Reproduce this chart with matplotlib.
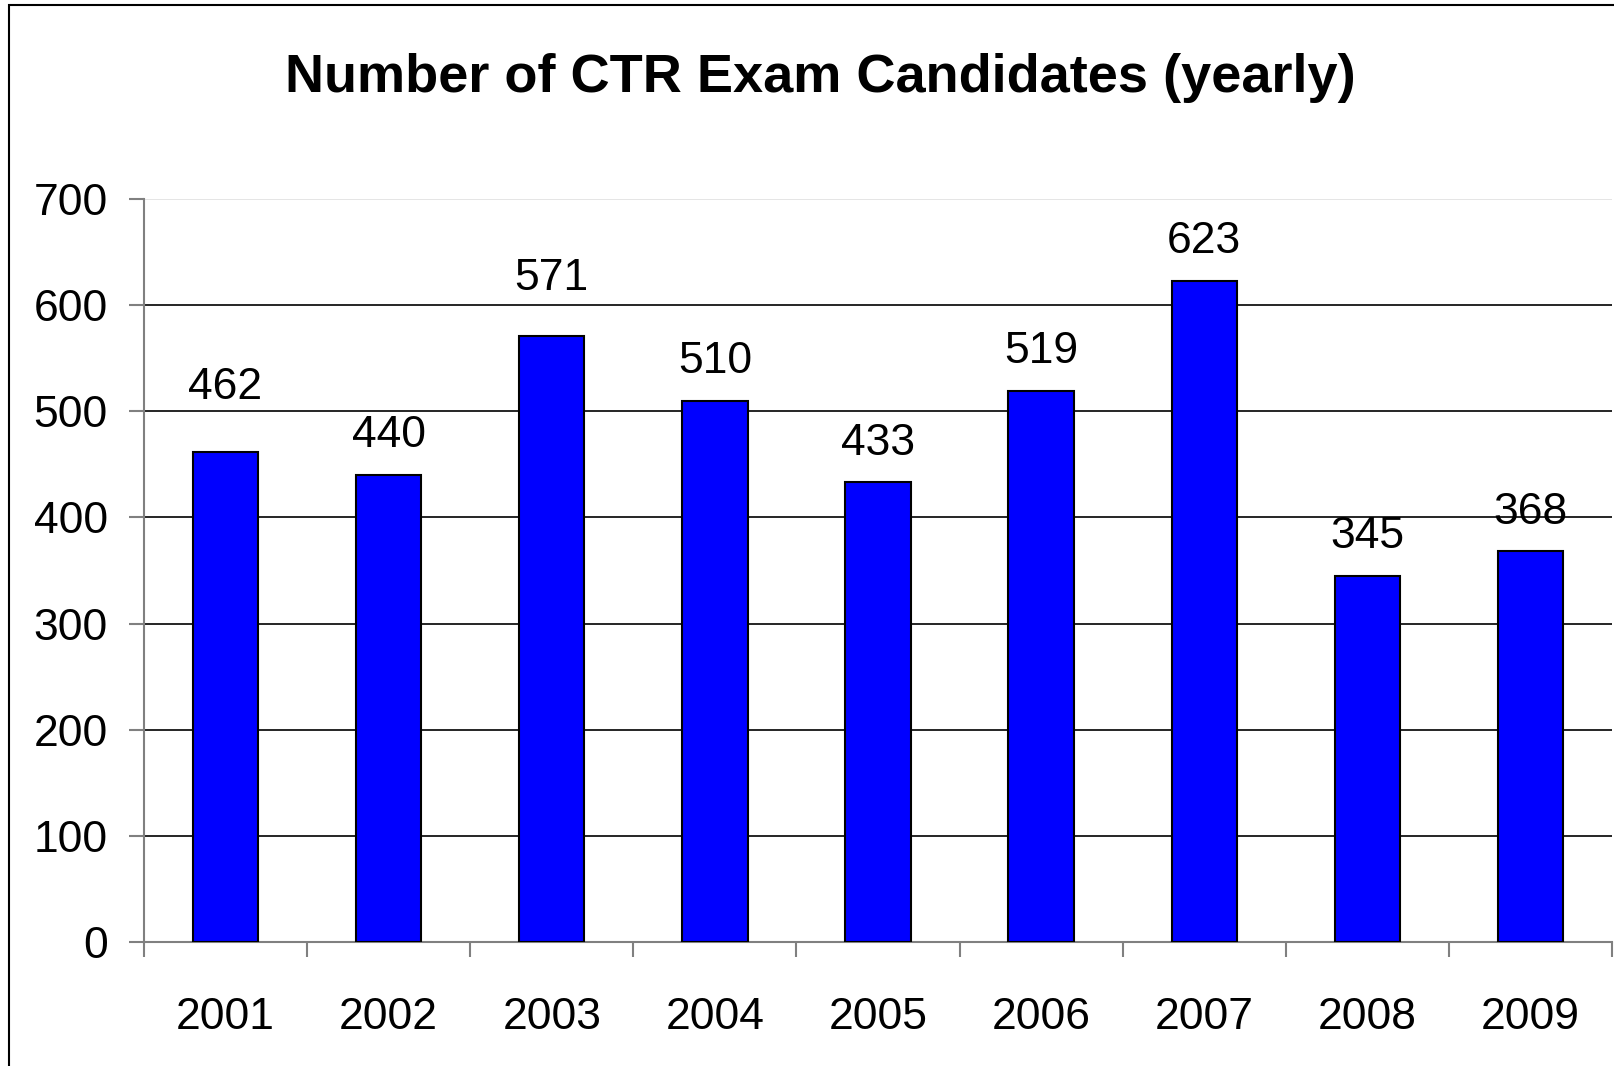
import numpy as np
import matplotlib
matplotlib.use("Agg")
import matplotlib.pyplot as plt
from matplotlib.patches import Rectangle

years = ["2001", "2002", "2003", "2004", "2005", "2006", "2007", "2008", "2009"]
candidates = [462, 440, 571, 510, 433, 519, 623, 345, 368]
yticks = [0, 100, 200, 300, 400, 500, 600, 700]

plt.rcParams['font.family'] = ['Liberation Sans', 'DejaVu Sans']

fig = plt.figure(figsize=(16.15, 10.66), dpi=100)
W, H = 1615, 1066

# outer chart frame (cut off on the right and bottom)
fig.patches.append(Rectangle((9 / W, -0.01), 1.0, 1 - 5 / H + 0.01,
                             transform=fig.transFigure, fill=False,
                             edgecolor='black', linewidth=1.5))

ax = fig.add_axes([144 / W, 1 - 942 / H, (1612 - 144) / W, 743 / H])
x = np.arange(len(years))
bars = ax.bar(x, candidates, width=0.4, color='#0000ff',
              edgecolor='black', linewidth=1.5, zorder=3)

ax.set_xlim(-0.5, len(years) - 0.5)
ax.set_ylim(0, 700)

# horizontal gridlines
for v in yticks[1:-1]:
    ax.axhline(v, color='black', linewidth=1.2, zorder=1)
ax.axhline(700, color='#e0e0e0', linewidth=1.2, zorder=1)

for s in ['top', 'right']:
    ax.spines[s].set_visible(False)
for s in ['left', 'bottom']:
    ax.spines[s].set_color('#808080')
    ax.spines[s].set_linewidth(1.5)

ax.set_yticks(yticks)
ax.set_yticklabels([str(v) for v in yticks])
ax.tick_params(axis='y', length=11, width=1.5, color='#808080',
               labelsize=32, pad=15)

ax.set_xticks(x)
ax.set_xticklabels(years)
ax.tick_params(axis='x', which='major', length=0, labelsize=32, pad=39.5)
ax.set_xticks(np.arange(len(years) + 1) - 0.5, minor=True)
ax.tick_params(axis='x', which='minor', length=11, width=1.5,
               color='#808080')

# value labels (some lifted to clear the gridlines)
extra = {"2001": 18, "2003": 13}
for yr, b, v in zip(years, bars, candidates):
    ax.annotate(str(v), (b.get_x() + b.get_width() / 2, v),
                xytext=(0, 13.5 + extra.get(yr, 0)), textcoords='offset points',
                ha='center', va='bottom', fontsize=32, clip_on=False)

fig.text(820 / W, 1 - 78 / H, "Number of CTR Exam Candidates (yearly)",
         ha='center', va='center', fontsize=39, fontweight='bold')

fig.savefig("out.png", dpi=100)
